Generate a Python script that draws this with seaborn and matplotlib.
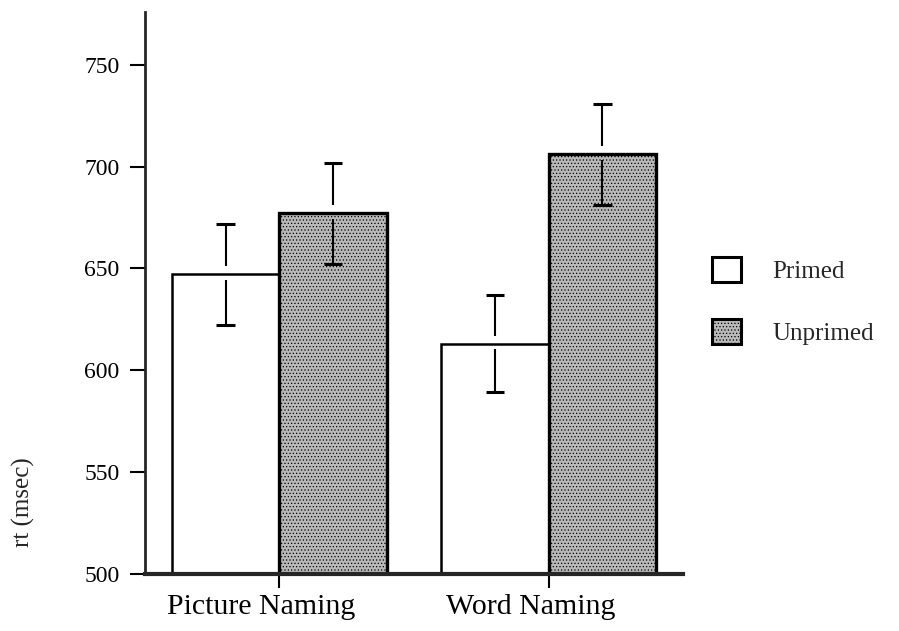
import matplotlib
matplotlib.use("Agg")
import matplotlib.pyplot as plt
import matplotlib.transforms as mtransforms
from matplotlib.patches import Patch
import seaborn as sns
import pandas as pd

tasks = ["Picture Naming", "Word Naming"]
conditions = ["Primed", "Unprimed"]
rt_primed = [647, 613]
rt_unprimed = [677, 706]
err_primed = [25, 24]
err_unprimed = [25, 25]
y_ticks = [500, 550, 600, 650, 700, 750]

df = pd.DataFrame({
    "task": tasks * 2,
    "condition": ["Primed"] * 2 + ["Unprimed"] * 2,
    "rt": rt_primed + rt_unprimed,
    "err": err_primed + err_unprimed,
})

sns.set_theme(style="ticks")
plt.rcParams["font.family"] = ["Liberation Serif", "DejaVu Serif"]
plt.rcParams["hatch.color"] = "#8c8c8c"
plt.rcParams["hatch.linewidth"] = 0.5

fig = plt.figure(figsize=(8.99, 6.31), dpi=100)
ax = fig.add_axes([0.161, 0.091, 0.599, 0.890])

grey = "#b9b9b9"
fills = {"Primed": "white", "Unprimed": grey}
sns.barplot(data=df, x="task", y="rt", hue="condition", order=tasks,
            hue_order=conditions, palette=fills, errorbar=None,
            width=0.8, gap=0, edgecolor="black", linewidth=1.8,
            legend=False, ax=ax)

# stipple texture and heavier outline on the unprimed bars
for patch in ax.patches:
    fc = patch.get_facecolor()
    if fc[0] < 0.9:
        patch.set_hatch(".....")
        patch.set_linewidth(2.4)

# error bars: split around the bar top, with caps at the ends
gap_up, gap_down = 4, 2.5
cap = 0.034
offsets = {"Primed": -0.2, "Unprimed": 0.2}
for _, row in df.iterrows():
    x = tasks.index(row["task"]) + offsets[row["condition"]]
    m, e = row["rt"], row["err"]
    ax.vlines(x, m + gap_up, m + e, color="black", lw=1.5, zorder=5)
    ax.vlines(x, m - e, m - gap_down, color="black", lw=1.5, zorder=5)
    ax.hlines([m + e, m - e], x - cap, x + cap, color="black", lw=2.2, zorder=5)

ax.set_xlim(-0.5, 1.5)
ax.set_ylim(500, 776)
ax.set_yticks(y_ticks)
ax.set_xlabel("")
ax.set_ylabel("rt (msec)", fontsize=18)
ax.yaxis.set_label_coords(-0.204, 0.127)

sns.despine(ax=ax)
ax.spines["left"].set_linewidth(2.0)
ax.spines["bottom"].set_linewidth(3.0)
ax.tick_params(axis="y", length=11, width=1.5, labelsize=17, pad=7,
               direction="out", colors="black")
ax.tick_params(axis="x", length=10, width=1.5, labelsize=21.5, pad=5,
               direction="out", colors="black")

shift = mtransforms.ScaledTranslation(-0.18, 0, fig.dpi_scale_trans)
for lbl in ax.get_xticklabels():
    lbl.set_transform(lbl.get_transform() + shift)

handles = [Patch(facecolor="white", edgecolor="black", linewidth=2.2),
           Patch(facecolor=grey, edgecolor="black", linewidth=2.2, hatch=".....")]
ax.legend(handles, conditions, loc="center left", bbox_to_anchor=(1.012, 0.485),
          frameon=False, fontsize=18, handlelength=1.16, handleheight=1.16,
          labelspacing=1.45, handletextpad=1.25)

fig.savefig("out.png", dpi=100)
